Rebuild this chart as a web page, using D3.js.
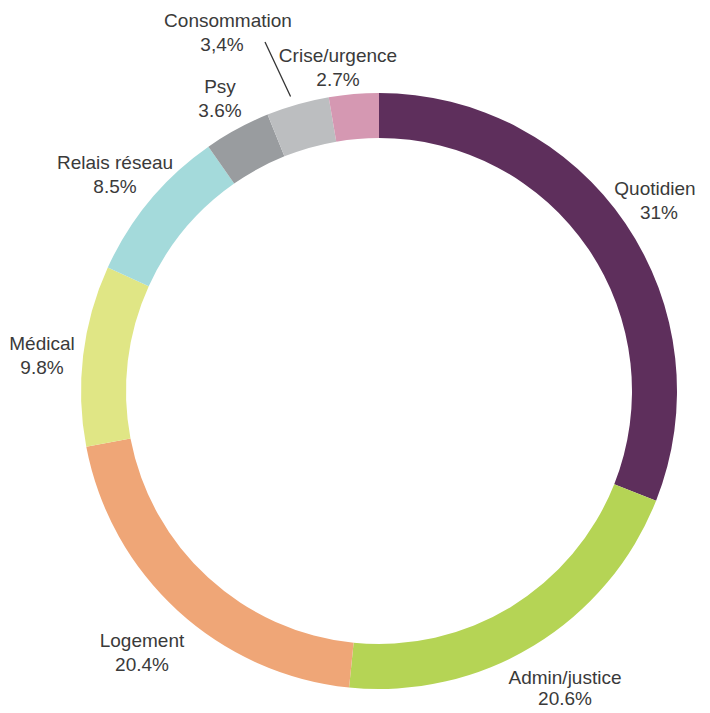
<!DOCTYPE html>
<html><head><meta charset="utf-8">
<script src="https://cdn.jsdelivr.net/npm/d3@7"></script>
<style>
html,body{margin:0;padding:0;background:#fff;}
svg{display:block;}
text{font-family:"Liberation Sans",Arial,sans-serif;font-size:19px;fill:#3a3a3a;}
</style></head>
<body>
<script>
const categories = ["Quotidien","Admin/justice","Logement","Médical","Relais réseau","Psy","Consommation","Crise/urgence"];
const values = [31, 20.6, 20.4, 9.8, 8.5, 3.6, 3.4, 2.7];
const valueLabels = ["31%","20.6%","20.4%","9.8%","8.5%","3.6%","3,4%","2.7%"];
const colors = ["#5e2f5c","#b5d455","#efa677","#e0e685","#a4dadb","#999c9f","#bcbec0","#d598b2"];

const W = 710, H = 713;
const cx = 379, cy = 391, R = 298, r = 253;

const svg = d3.select("body").append("svg").attr("width", W).attr("height", H);
const g = svg.append("g").attr("transform", `translate(${cx},${cy})`);

const pie = d3.pie().sort(null).value(d => d);
const arcs = pie(values);
const arc = d3.arc().innerRadius(r).outerRadius(R);

g.selectAll("path").data(arcs).enter().append("path")
  .attr("d", arc).attr("fill", (d,i) => colors[i]);

const labelPos = [
  [655, 195], [565, 684], [142, 647], [42, 350], [115, 169], [220, 93], [228, 27], [338, 62]
];
const lab = svg.append("g");
categories.forEach((c,i) => {
  const t = lab.append("text").attr("text-anchor","middle")
    .attr("x", labelPos[i][0]).attr("y", labelPos[i][1]);
  t.append("tspan").attr("x", labelPos[i][0]).text(c);
  t.append("tspan").attr("x", labelPos[i][0] + (i===6 ? -6 : (i===0 ? 4 : 0))).attr("dy", i===1 ? 21 : 24).text(valueLabels[i]);
});

const cA = arcs[6];
const mid = (cA.startAngle + cA.endAngle)/2;
const px = cx + (R+4)*Math.sin(mid), py = cy - (R+4)*Math.cos(mid);
svg.append("line").attr("x1", 265).attr("y1", 42).attr("x2", px - 6).attr("y2", py - 4)
  .attr("stroke","#333").attr("stroke-width",1.3);
</script>
</body></html>
